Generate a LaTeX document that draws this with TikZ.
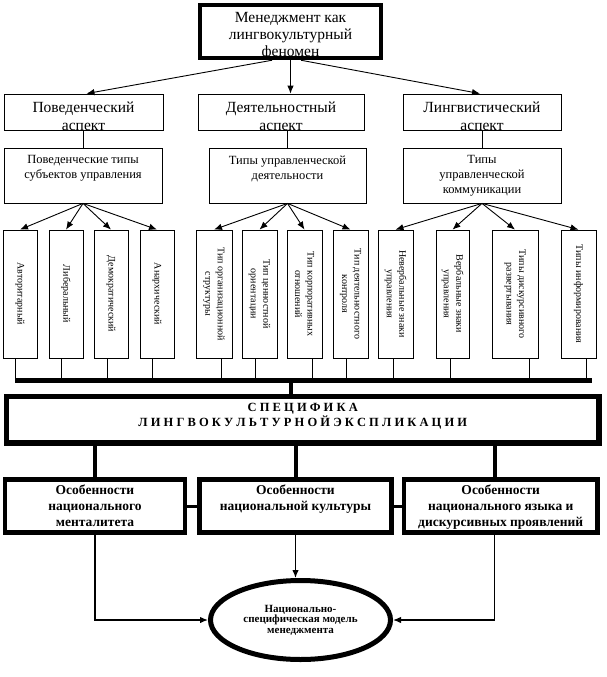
\documentclass[tikz,border=0pt]{standalone}
\usepackage{fontspec}
\setmainfont{Liberation Serif}
\usetikzlibrary{arrows.meta,positioning,shapes.geometric}
\definecolor{ink}{HTML}{000000}
\tikzset{
  rootbox/.style ={draw=ink,line width=4.5pt},
  rootlbl/.style ={inner sep=0pt,align=center,font=\fontsize{15.5}{17}\selectfont},
  aspbox/.style  ={draw=ink,line width=0.8pt,minimum height=36pt},
  asplbl/.style  ={inner sep=0pt,align=center,font=\fontsize{15.5}{18}\selectfont},
  typebox/.style ={draw=ink,line width=0.8pt,minimum height=55pt},
  typelbl/.style ={inner sep=0pt,align=center,font=\fontsize{12.5}{15}\selectfont},
  vbox/.style    ={draw=ink,line width=0.8pt,minimum height=128pt},
  vlbl/.style    ={inner sep=0pt,align=center,rotate=-90,font=\fontsize{10}{12.5}\selectfont},
  specbox/.style ={draw=ink,line width=5.5pt,minimum width=592.5pt,minimum height=46.5pt},
  speclbl/.style ={inner sep=0pt,align=center,font=\fontsize{12.5}{15}\selectfont\bfseries},
  featbox/.style ={draw=ink,line width=4.5pt,minimum height=53pt},
  featlbl/.style ={inner sep=0pt,align=center,font=\fontsize{13.5}{16}\selectfont\bfseries},
  modelell/.style={ellipse,draw=ink,line width=5pt,inner sep=0pt,minimum width=180pt,
                   minimum height=79pt,align=center,font=\fontsize{11}{10.5}\selectfont\bfseries},
  flow/.style    ={-{Latex[length=8pt,width=6.5pt]},line width=0.9pt,draw=ink},
  link/.style    ={line width=0.9pt,draw=ink},
  heavy/.style   ={line width=4pt,draw=ink}
}

\begin{document}
\begin{tikzpicture}[x=1pt,y=-1pt]
    \useasboundingbox (0,0) rectangle (606,677);
    \node[rootbox,minimum width=181pt,minimum height=53pt] (root) at (290.5,31.5) {};
    \node[rootlbl,below=9pt of root.north] (rootl) {Менеджмент как\\лингвокультурный\\феномен};
    \node[aspbox,minimum width=159pt] (beh) at (83.5,112) {};
    \node[aspbox,minimum width=166pt] (act) at (281,112) {};
    \node[aspbox,minimum width=158pt] (lng) at (482,112) {};
    \node[asplbl,below=8.5pt of beh.north] (behl) {Поведенческий\\аспект};
    \node[asplbl,below=8.5pt of act.north] (actl) {Деятельностный\\аспект};
    \node[asplbl,below=8.5pt of lng.north] (lngl) {Лингвистический\\аспект};
    \draw[flow] ([xshift=-18.5pt]root.south) -- ([xshift=3pt]beh.north);
    \draw[flow] (root.south) -- (root.south |- act.north);
    \draw[flow] ([xshift=10.5pt]root.south) -- ([xshift=-2pt]lng.north);
    \node[typebox,minimum width=158pt] (beht) at (83,175.5) {};
    \node[typebox,minimum width=157pt] (actt) at (287.5,175.5) {};
    \node[typebox,minimum width=158pt] (lngt) at (482,175.5) {};
    \node[typelbl,below=8pt of beht.north] (behtl) {Поведенческие типы\\субъектов управления};
    \node[typelbl,below=8pt of actt.north] (acttl) {Типы управленческой\\деятельности};
    \node[typelbl,below=8pt of lngt.north] (lngtl) {Типы\\управленческой\\коммуникации};
    \draw[link] (beht.north |- beh.south) -- (beht.north);
    \draw[link] (actt.north |- act.south) -- (actt.north);
    \draw[link] (lngt.north |- lng.south) -- (lngt.north);
    \foreach \i/\x/\w/\t in {1/20/34/Авторитарный, 2/66/34/Либеральный,
        3/111/34/Демократический, 4/157/34/Анархический,
        5/214/36/Тип организационной\\структуры, 6/259.5/35/Тип ценностной\\ориентации,
        7/304.5/35/Тип корпоративных\\отношений, 8/350.5/35/Тип деятельностного\\контроля,
        9/395.5/35/Невербальные знаки\\управления, 10/452.5/33/Вербальные знаки\\управления,
        11/515/46/Типы дискурсивного\\развертывания, 12/578.5/35/Типы информирования}{
      \node[vbox,minimum width=\w pt] (v\i) at (\x,294) {};
      \node[vlbl] (vl\i) at (v\i) {\t};
    }
    \foreach \i in {1,...,4} \draw[flow] (beht.south) -- (v\i.north);
    \foreach \i in {5,...,8} \draw[flow] (actt.south) -- (v\i.north);
    \foreach \i in {9,...,12} \draw[flow] (lngt.south) -- (v\i.north);
    \coordinate (barL) at (15,380);
    \coordinate (barR) at (592,380);
    \coordinate (barM) at (291,380);
    \foreach \i/\o in {1/-5,2/-5,3/-4,4/-5,5/7,6/-4.5,7/7.5,8/-4,9/-2.5,10/-2.5,11/14.5,12/8}
      \draw[link] ([xshift=\o pt]v\i.south) -- ([xshift=\o pt]v\i.south |- barL);
    \draw[line width=5pt] (barL) -- (barR);
    \node[specbox] (spec) at (302.75,419.75) {};
    \node[speclbl,below=9pt of spec.north] (specl)
      {С П Е Ц И Ф И К А\\Л И Н Г В О К У Л Ь Т У Р Н О Й Э К С П Л И К А Ц И И};
    \draw[heavy] (barM) -- (barM |- spec.north);
    \node[featbox,minimum width=180pt] (f1) at (95,506) {};
    \node[featbox,minimum width=192pt] (f2) at (295.5,506) {};
    \node[featbox,minimum width=193.5pt] (f3) at (500.75,506) {};
    \node[featlbl,below=7.75pt of f1.north] (f1l) {Особенности\\национального\\менталитета};
    \node[featlbl,below=7.75pt of f2.north] (f2l) {Особенности\\национальной культуры};
    \node[featlbl,below=7.75pt of f3.north] (f3l) {Особенности\\национального языка и\\дискурсивных проявлений};
    \coordinate (f3in) at ([xshift=-6pt]f3.south);
    \draw[heavy] (spec.south -| f1.north) -- (f1.north);
    \draw[heavy] (spec.south -| f2.north) -- (f2.north);
    \draw[heavy] (spec.south -| f3in) -- (f3in |- f3.north);
    \draw[line width=3pt] (f1.east) -- (f2.west);
    \draw[line width=3pt] (f2.east) -- (f3.west);
    \node[modelell] (model) at (300.5,620) {Национально-\\специфическая модель\\менеджмента};
    \draw[flow,line width=1.3pt] (f1.south) |- (model.west);
    \draw[flow,line width=1.3pt] (f2.south) -- (f2.south |- model.north);
    \draw[flow,line width=1.3pt] (f3in) |- (model.east);
\end{tikzpicture}
\end{document}
